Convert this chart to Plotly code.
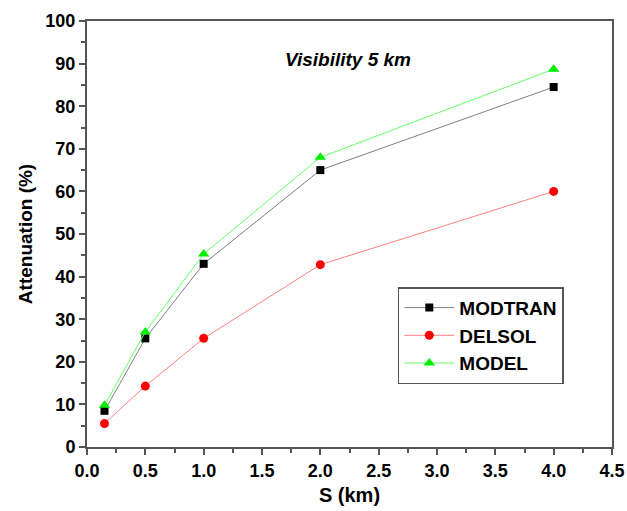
import plotly.graph_objects as go

s_km = [0.15, 0.5, 1.0, 2.0, 4.0]
modtran = [8.5, 25.5, 43.0, 65.0, 84.5]
delsol = [5.5, 14.3, 25.5, 42.8, 60.0]
model = [9.8, 27.0, 45.3, 68.0, 88.7]

x_ticks = [0.0, 0.5, 1.0, 1.5, 2.0, 2.5, 3.0, 3.5, 4.0, 4.5]
y_ticks = [0, 10, 20, 30, 40, 50, 60, 70, 80, 90, 100]

FONT = "Liberation Sans, Arial"

fig = go.Figure()
fig.add_trace(go.Scatter(x=s_km, y=modtran, name="<b>MODTRAN</b>", mode="lines+markers",
                         line=dict(color="#808080", width=1),
                         marker=dict(symbol="square", size=8, color="black")))
fig.add_trace(go.Scatter(x=s_km, y=delsol, name="<b>DELSOL</b>", mode="lines+markers",
                         line=dict(color="#ff8080", width=1),
                         marker=dict(symbol="circle", size=9, color="#ff0000")))
fig.add_trace(go.Scatter(x=s_km, y=model, name="<b>MODEL</b>", mode="lines+markers",
                         line=dict(color="#66ff66", width=1),
                         marker=dict(symbol="triangle-up", size=10, color="#00ee00")))

axis_common = dict(showgrid=False, zeroline=False, showline=True, linecolor="#555555",
                   linewidth=2, mirror=True, ticks="outside", ticklen=6, tickwidth=2,
                   tickcolor="#555555", automargin=False,
                   tickfont=dict(family=FONT, size=18, color="black"),
                   minor=dict(ticks="outside", ticklen=4, tickwidth=1.5, tickcolor="#555555"))

fig.update_xaxes(range=[0, 4.5], tickvals=x_ticks, ticktext=[f"<b>{v:.1f}</b>" for v in x_ticks],
                 minor_dtick=0.25,
                 title=dict(text="<b>S (km)</b>", font=dict(family=FONT, size=20, color="black"), standoff=8),
                 **axis_common)
fig.update_yaxes(range=[0, 100], tickvals=y_ticks, ticktext=[f"<b>{v}</b>" for v in y_ticks],
                 minor_dtick=5,
                 title=dict(text="<b>Attenuation (%)</b>", font=dict(family=FONT, size=19, color="black"), standoff=8),
                 **axis_common)

fig.add_annotation(x=0.497, y=0.91, xref="paper", yref="paper", showarrow=False,
                   text="<b><i>Visibility 5 km</i></b>", yanchor="middle",
                   font=dict(family=FONT, size=19, color="black"))

fig.update_layout(
    width=627, height=511,
    margin=dict(l=87, r=15, t=21, b=64),
    paper_bgcolor="white", plot_bgcolor="white",
    showlegend=True,
    legend=dict(x=0.592, y=0.375, xanchor="left", yanchor="top",
                bordercolor="#555555", borderwidth=1.5, bgcolor="white",
                font=dict(family=FONT, size=19, color="black"),
                itemwidth=50, tracegroupgap=0),
)

fig.write_html("out.html", config={"displayModeBar": False},
               post_script="document.body.style.margin='0';document.body.style.overflow='hidden';")
